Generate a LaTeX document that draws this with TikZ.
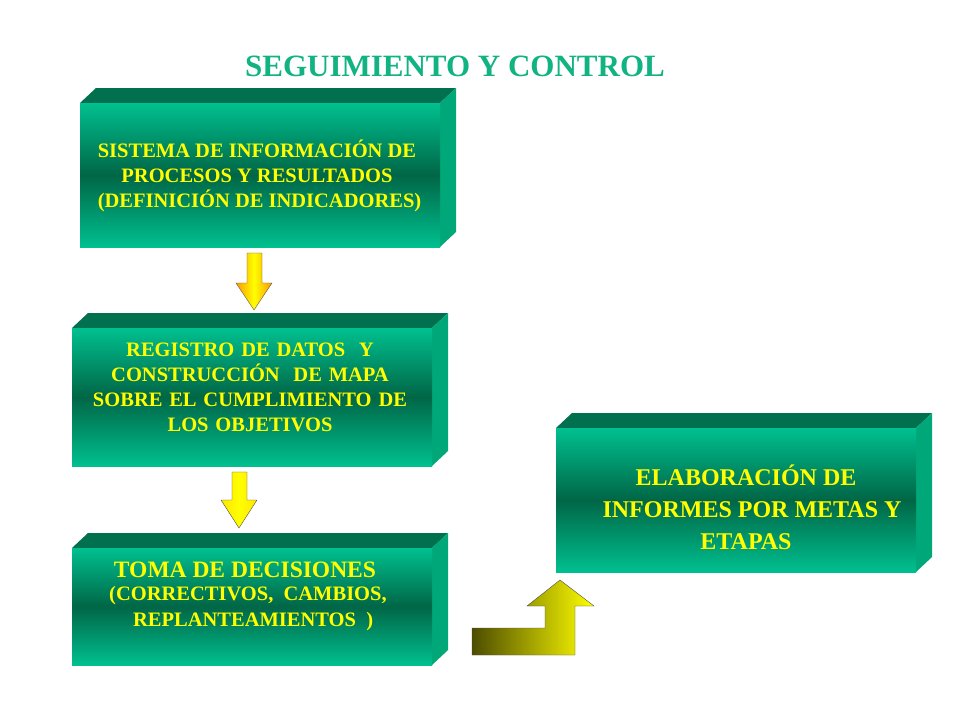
\documentclass[tikz,border=0pt]{standalone}
\usepackage{fontspec}
\setmainfont{Liberation Serif}
\begin{document}
\begin{tikzpicture}[x=1pt,y=-1pt]
\definecolor{gtop}{HTML}{00C08F}
\definecolor{gmid}{HTML}{006646}
\definecolor{gface}{HTML}{00704F}
\definecolor{gside}{HTML}{00A879}
\definecolor{txt}{HTML}{FFFF00}
\definecolor{ttl}{HTML}{12B383}
\tikzset{boxtxt/.style={text=txt,font=\bfseries\fontsize{20.5}{25}\selectfont,align=center,inner sep=0pt}}
\useasboundingbox (0,0) rectangle (960,720);
\fill[white] (0,0) rectangle (960,720);
\newcommand{\mybox}[5]{% x1 y1 x2 y2 name
 \fill[gface] (#1,#2) -- ++(16,-15) -- (#3+16,#2-15) -- (#3,#2) -- cycle;
 \fill[gside] (#3,#2) -- ++(16,-15) -- (#3+16,#4-15) -- (#3,#4) -- cycle;
 \shade[top color=gtop,bottom color=gtop,middle color=gmid] (#1,#2) rectangle (#3,#4);
 \coordinate (#5) at ({(#1+#3)/2},{(#2+#4)/2});
}
\node[text=ttl,font=\bfseries\fontsize{31}{36}\selectfont] (title) at (455,66) {SEGUIMIENTO Y CONTROL};
\mybox{80}{103}{440}{247}{b1}
\mybox{72}{328}{432}{466}{b2}
\mybox{72}{548}{432}{665}{b3}
\mybox{556}{428}{916}{572}{b4}
\node[boxtxt] (t1) at (257,176) {SISTEMA DE INFORMACIÓN DE\\PROCESOS Y RESULTADOS\\\ (DEFINICIÓN DE INDICADORES)};
\node[boxtxt,text width=340pt] (t2) at (250,387) {REGISTRO DE DATOS \ Y\\CONSTRUCCIÓN \ DE MAPA\\SOBRE EL CUMPLIMIENTO DE\\LOS OBJETIVOS};
\node[boxtxt,font=\bfseries\fontsize{23.5}{27}\selectfont] (t3a) at (245,570) {TOMA DE DECISIONES};
\node[boxtxt,font=\bfseries\fontsize{20.5}{26}\selectfont] (t3b) at (248,609) {(CORRECTIVOS, \ CAMBIOS,\\\ \ REPLANTEAMIENTOS \ )};
\node[boxtxt,font=\bfseries\fontsize{24}{32}\selectfont] (t4) at (746,507) {ELABORACIÓN DE\\\ \ INFORMES POR METAS Y\\ETAPAS\hspace{5.5em}};
\shade[left color=orange!80!yellow,right color=orange!80!yellow,middle color=yellow,draw=black!70]
 (247,253) -- (262,253) -- (262,283) -- (272,283) -- (254,310) -- (236,283) -- (247,283) -- cycle;
\shade[left color=yellow!80!orange,right color=yellow!80!orange,middle color=yellow,draw=black!70]
 (232,472) -- (247,472) -- (247,500) -- (257,500) -- (239,528) -- (221,500) -- (232,500) -- cycle;
\shade[left color=black!40!olive,right color=yellow,draw=black!70]
 (472,628) -- (545,628) -- (545,606) -- (527,606) -- (560,580) -- (594,606) -- (575,606) -- (575,655) -- (472,655) -- cycle;
\end{tikzpicture}
\end{document}
